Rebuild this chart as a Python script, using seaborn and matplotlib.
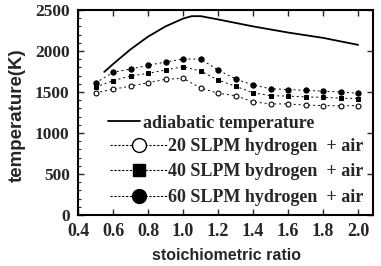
import numpy as np
import pandas as pd
import matplotlib
matplotlib.use("Agg")
import matplotlib.pyplot as plt
import seaborn as sns
from matplotlib.lines import Line2D
from matplotlib.ticker import MultipleLocator

sns.set_style("ticks")
plt.rcParams['font.family'] = ['Liberation Serif', 'DejaVu Serif']
plt.rcParams['font.weight'] = 'bold'

# adiabatic curve
adia_x = [0.55, 0.6, 0.7, 0.8, 0.9, 1.0, 1.05, 1.1, 1.2, 1.4, 1.6, 1.8, 2.0]
adia_t = [1745, 1840, 2020, 2175, 2300, 2395, 2425, 2425, 2385, 2300, 2225, 2160, 2075]

ratio = [0.5, 0.6, 0.7, 0.8, 0.9, 1.0, 1.1, 1.2, 1.3, 1.4, 1.5, 1.6, 1.7, 1.8, 1.9, 2.0]
t20 = [1490, 1533, 1573, 1613, 1655, 1667, 1550, 1484, 1455, 1380, 1355, 1355, 1340, 1335, 1330, 1335]
t40 = [1560, 1638, 1695, 1728, 1768, 1809, 1756, 1646, 1570, 1490, 1455, 1450, 1440, 1435, 1425, 1420]
t60 = [1610, 1740, 1780, 1825, 1866, 1902, 1902, 1768, 1659, 1585, 1540, 1530, 1520, 1510, 1500, 1484]

labels = ["adiabatic temperature",
          "20 SLPM hydrogen  + air",
          "40 SLPM bydrogen  + air",
          "60 SLPM hydrogen  + air"]
xticks = [0.4, 0.6, 0.8, 1.0, 1.2, 1.4, 1.6, 1.8, 2.0]
xticklabels = ["0.4", "0.6", "0.8", "1.0", "1.2", "1.4", "1.6", "1.8", "2.0"]
yticks = [0, 500, 1000, 1500, 2000, 2500]

W, H = 381, 266
fig = plt.figure(figsize=(W / 100, H / 100), dpi=100)
ax = fig.add_axes([78 / W, 1 - 215 / H, (373 - 78) / W, (215 - 10) / H])

sns.lineplot(x=adia_x, y=adia_t, ax=ax, color='black', lw=1.3)
dash = (0, (2, 3))
sns.lineplot(x=ratio, y=t20, ax=ax, color='black', lw=0.7, linestyle=dash,
             marker='o', markersize=3.5, markerfacecolor='white',
             markeredgecolor='black', markeredgewidth=0.8)
sns.lineplot(x=ratio, y=t40, ax=ax, color='black', lw=0.7, linestyle=dash,
             marker='s', markersize=3.5, markerfacecolor='black',
             markeredgecolor='black')
sns.lineplot(x=ratio, y=t60, ax=ax, color='black', lw=0.7, linestyle=dash,
             marker='o', markersize=3.8, markerfacecolor='black',
             markeredgecolor='black')

ax.set_xlim(0.4, 2.085)
ax.set_ylim(0, 2500)
ax.set_xticks(xticks)
ax.set_xticklabels(xticklabels)
ax.set_yticks(yticks)
ax.yaxis.set_minor_locator(MultipleLocator(100))
ax.tick_params(axis='both', which='major', direction='in', length=4, width=1,
               top=True, right=True, labelsize=12.5, pad=6)
ax.tick_params(axis='x', which='major', labelsize=13)
ax.tick_params(axis='y', which='minor', direction='in', length=2, width=0.8, left=True, right=False)
for lab in ax.get_xticklabels() + ax.get_yticklabels():
    lab.set_fontweight('bold')
for s in ax.spines.values():
    s.set_linewidth(1.5)
    s.set_color('black')

sans = ['Liberation Sans', 'DejaVu Sans']
ax.set_xlabel("stoichiometric ratio", fontsize=11.5, fontweight='bold', family=sans)
ax.set_ylabel("temperature(K)", fontsize=13.5, fontweight='bold', family=sans)
ax.xaxis.set_label_coords((226 - 78) / (373 - 78), -(248 - 215) / (215 - 10))
ax.yaxis.set_label_coords(-(78 - 26) / (373 - 78), (215 - 115) / (215 - 10))

fs = 13
dls = (0, (2, 1.5))
h_adia = [Line2D([], [], color='black', lw=1.3)]
h_ser = [
    Line2D([], [], color='black', lw=0.8, linestyle=dls, marker='o',
           markersize=10, markerfacecolor='white', markeredgecolor='black'),
    Line2D([], [], color='black', lw=0.8, linestyle=dls, marker='s',
           markersize=9, markerfacecolor='black'),
    Line2D([], [], color='black', lw=0.8, linestyle=dls, marker='o',
           markersize=10, markerfacecolor='black'),
]
pxem = fs * 100 / 72
legA = fig.legend(h_adia, labels[:1], loc='center left',
                  bbox_to_anchor=(108 / W, 1 - 123 / H), frameon=False,
                  borderpad=0, borderaxespad=0, handlelength=32 / pxem,
                  handletextpad=3 / pxem, prop={'weight': 'bold', 'size': fs})
legB = fig.legend(h_ser, labels[1:], loc='center left',
                  bbox_to_anchor=(110 / W, 1 - 172 / H), frameon=False,
                  borderpad=0, borderaxespad=0, handlelength=57 / pxem,
                  handletextpad=1 / pxem, labelspacing=0.48,
                  prop={'weight': 'bold', 'size': fs})

fig.savefig("out.png", dpi=100)
